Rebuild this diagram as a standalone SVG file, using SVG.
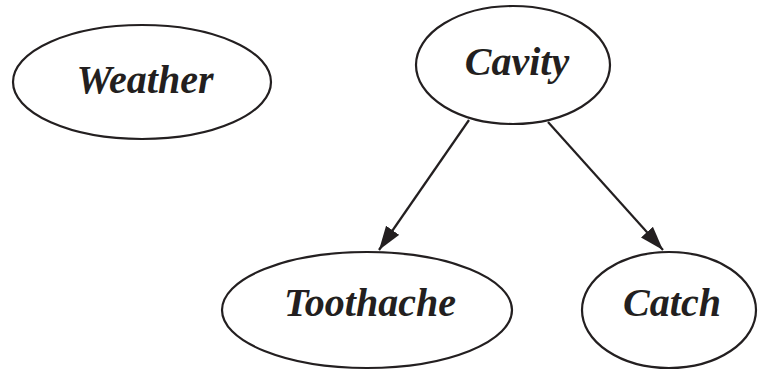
<svg xmlns="http://www.w3.org/2000/svg" width="759" height="370" viewBox="0 0 759 370">
<style>
.n ellipse{fill:#fff;stroke:#231f20;stroke-width:2.2}
.n text{font-family:"Liberation Serif","Times New Roman",serif;font-style:italic;font-weight:bold;font-size:40px;fill:#231f20;text-anchor:middle}
.e line{stroke:#231f20;stroke-width:2.2}
</style>
<defs>
<marker id="ah" markerUnits="userSpaceOnUse" markerWidth="26" markerHeight="18" refX="24" refY="8" orient="auto">
<path d="M0,0 L24,8 L0,16 Z" fill="#231f20"/>
</marker>
</defs>
<rect width="759" height="370" fill="#fff"/>
<g id="weather" class="n"><ellipse cx="142" cy="82" rx="129" ry="57"/><text x="145" y="93">Weather</text></g>
<g id="cavity" class="n"><ellipse cx="513" cy="65" rx="97" ry="59"/><text x="517" y="75">Cavity</text></g>
<g id="toothache" class="n"><ellipse cx="367" cy="310" rx="145" ry="58"/><text x="370" y="316">Toothache</text></g>
<g id="catch" class="n"><ellipse cx="669" cy="310" rx="87" ry="58"/><text x="672" y="316">Catch</text></g>
<g id="connectors" class="e">
<line x1="469" y1="120" x2="379" y2="250" marker-end="url(#ah)"/>
<line x1="548" y1="122" x2="663" y2="250" marker-end="url(#ah)"/>
</g>
</svg>
